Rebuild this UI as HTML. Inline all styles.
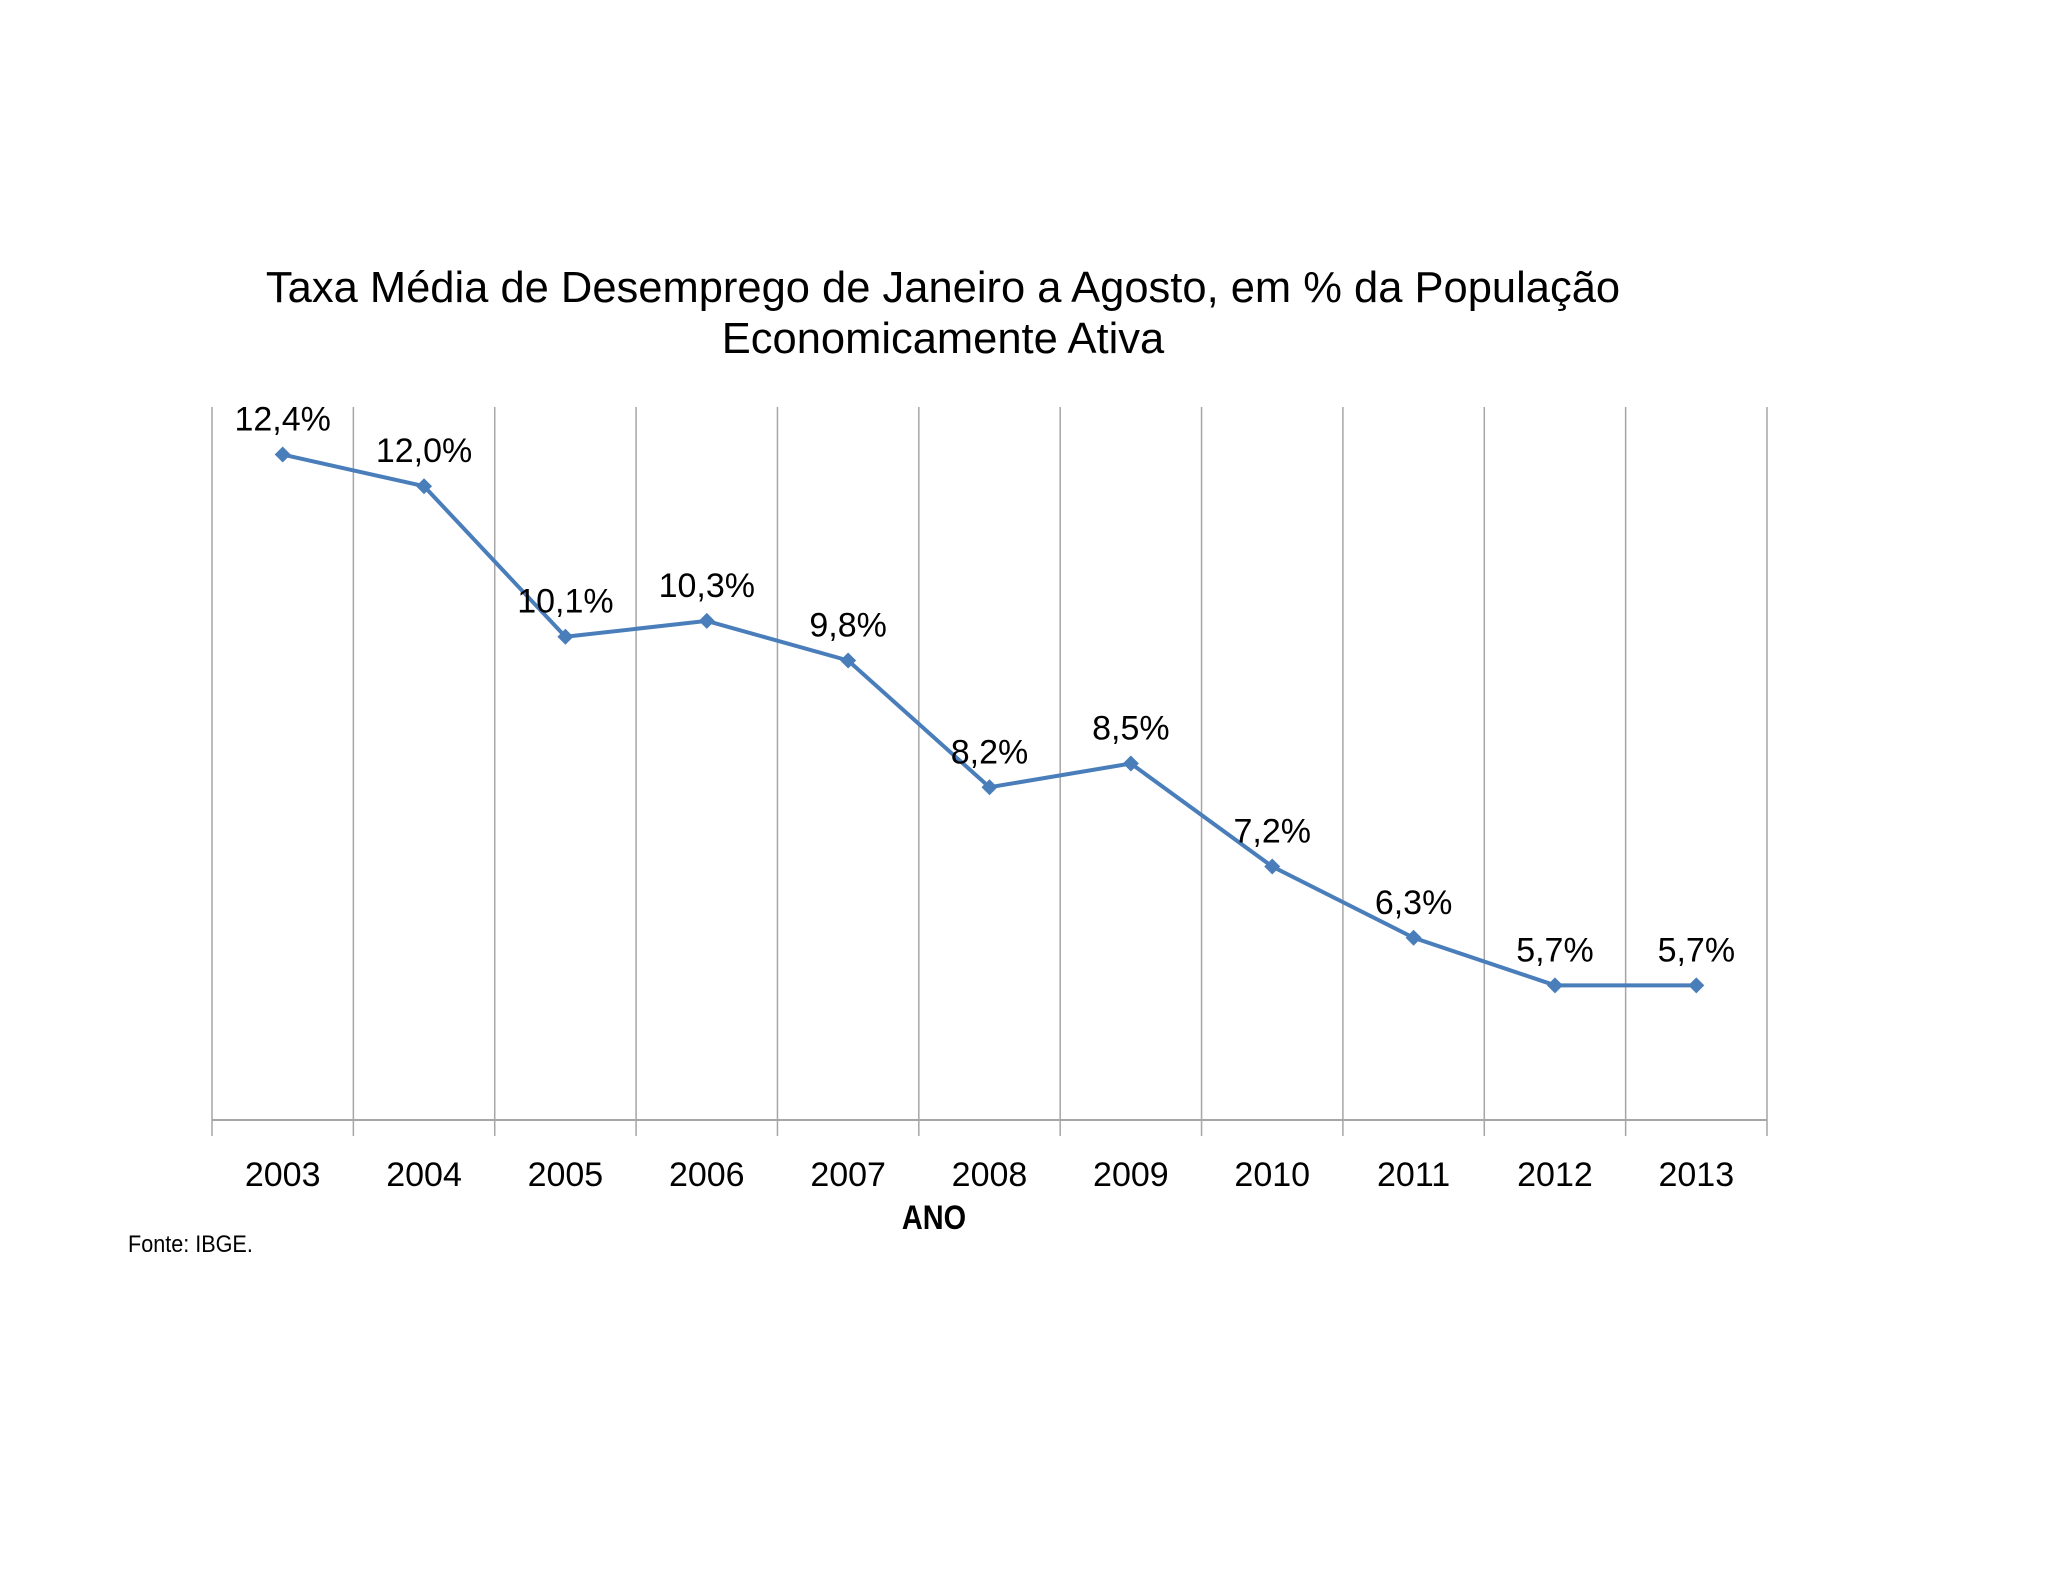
<!DOCTYPE html>
<html><head><meta charset="utf-8"><style>
html,body{margin:0;padding:0;background:#fff;}
svg{display:block;}
</style></head><body>
<svg width="2048" height="1582" viewBox="0 0 2048 1582" xmlns="http://www.w3.org/2000/svg">
<g id="title" font-family="Liberation Sans, sans-serif" font-size="43.5" fill="#000" text-anchor="middle">
<text x="943" y="302">Taxa Média de Desemprego de Janeiro a Agosto, em % da População</text>
<text x="943" y="353">Economicamente Ativa</text>
</g>
<g id="grid"></g>
<g id="xlabels"></g>
<path id="line" fill="none" stroke="#4a7ebb" stroke-width="4"/>
<g id="marks"></g>
<g id="vlabels"></g>
<text x="934" y="1229" font-family="Liberation Sans, sans-serif" font-weight="bold" font-size="34" text-anchor="middle" transform="translate(934 0) scale(0.85 1) translate(-934 0)">ANO</text>
<text x="128" y="1252" font-family="Liberation Sans, sans-serif" font-size="24" transform="translate(128 0) scale(0.9 1) translate(-128 0)">Fonte: IBGE.</text>
</svg>
<script>
const categories = ["2003","2004","2005","2006","2007","2008","2009","2010","2011","2012","2013"];
const values = [12.4,12.0,10.1,10.3,9.8,8.2,8.5,7.2,6.3,5.7,5.7];
const valueLabels = ["12,4%","12,0%","10,1%","10,3%","9,8%","8,2%","8,5%","7,2%","6,3%","5,7%","5,7%"];
const yMin = 4, yMax = 13;
const L=212, R=1767, T=407, B=1120;
const NS="http://www.w3.org/2000/svg";
const bw=(R-L)/categories.length;
function xPos(i){return L+(i+0.5)*bw;}
function yPos(v){return B-(v-yMin)/(yMax-yMin)*(B-T);}
function mk(tag,attrs,parent){const e=document.createElementNS(NS,tag);for(const k in attrs)e.setAttribute(k,attrs[k]);parent.appendChild(e);return e;}
const grid=document.getElementById('grid');
for(let i=0;i<=categories.length;i++){
  const x=L+i*bw;
  const g=mk('line',{x1:x,x2:x,y1:T,y2:B+16,stroke:'#a6a6a6','stroke-width':1.5},grid);
  
  
}
const ax=mk('line',{x1:L,x2:R,y1:B,y2:B,stroke:'#a6a6a6','stroke-width':2},grid);


const xl=document.getElementById('xlabels');
categories.forEach((c,i)=>{
  const t=mk('text',{x:xPos(i),y:1186,'font-family':'Liberation Sans, sans-serif','font-size':34,'text-anchor':'middle'},xl);
  t.textContent=c;
  
  
});
let d='';
values.forEach((v,i)=>{d+=(i?'L':'M')+xPos(i)+' '+yPos(v)+' ';});
document.getElementById('line').setAttribute('d',d);
const mg=document.getElementById('marks'), vl=document.getElementById('vlabels');
values.forEach((v,i)=>{
  const x=xPos(i),y=yPos(v),s=8;
  const m=mk('path',{d:`M${x} ${y-s}L${x+s} ${y}L${x} ${y+s}L${x-s} ${y}Z`,fill:'#4a7ebb'},mg);
  
  
  const t=mk('text',{x:x,y:y-24,'font-family':'Liberation Sans, sans-serif','font-size':34,'text-anchor':'middle'},vl);
  t.textContent=valueLabels[i];
  
  
});
</script>
</body></html>
